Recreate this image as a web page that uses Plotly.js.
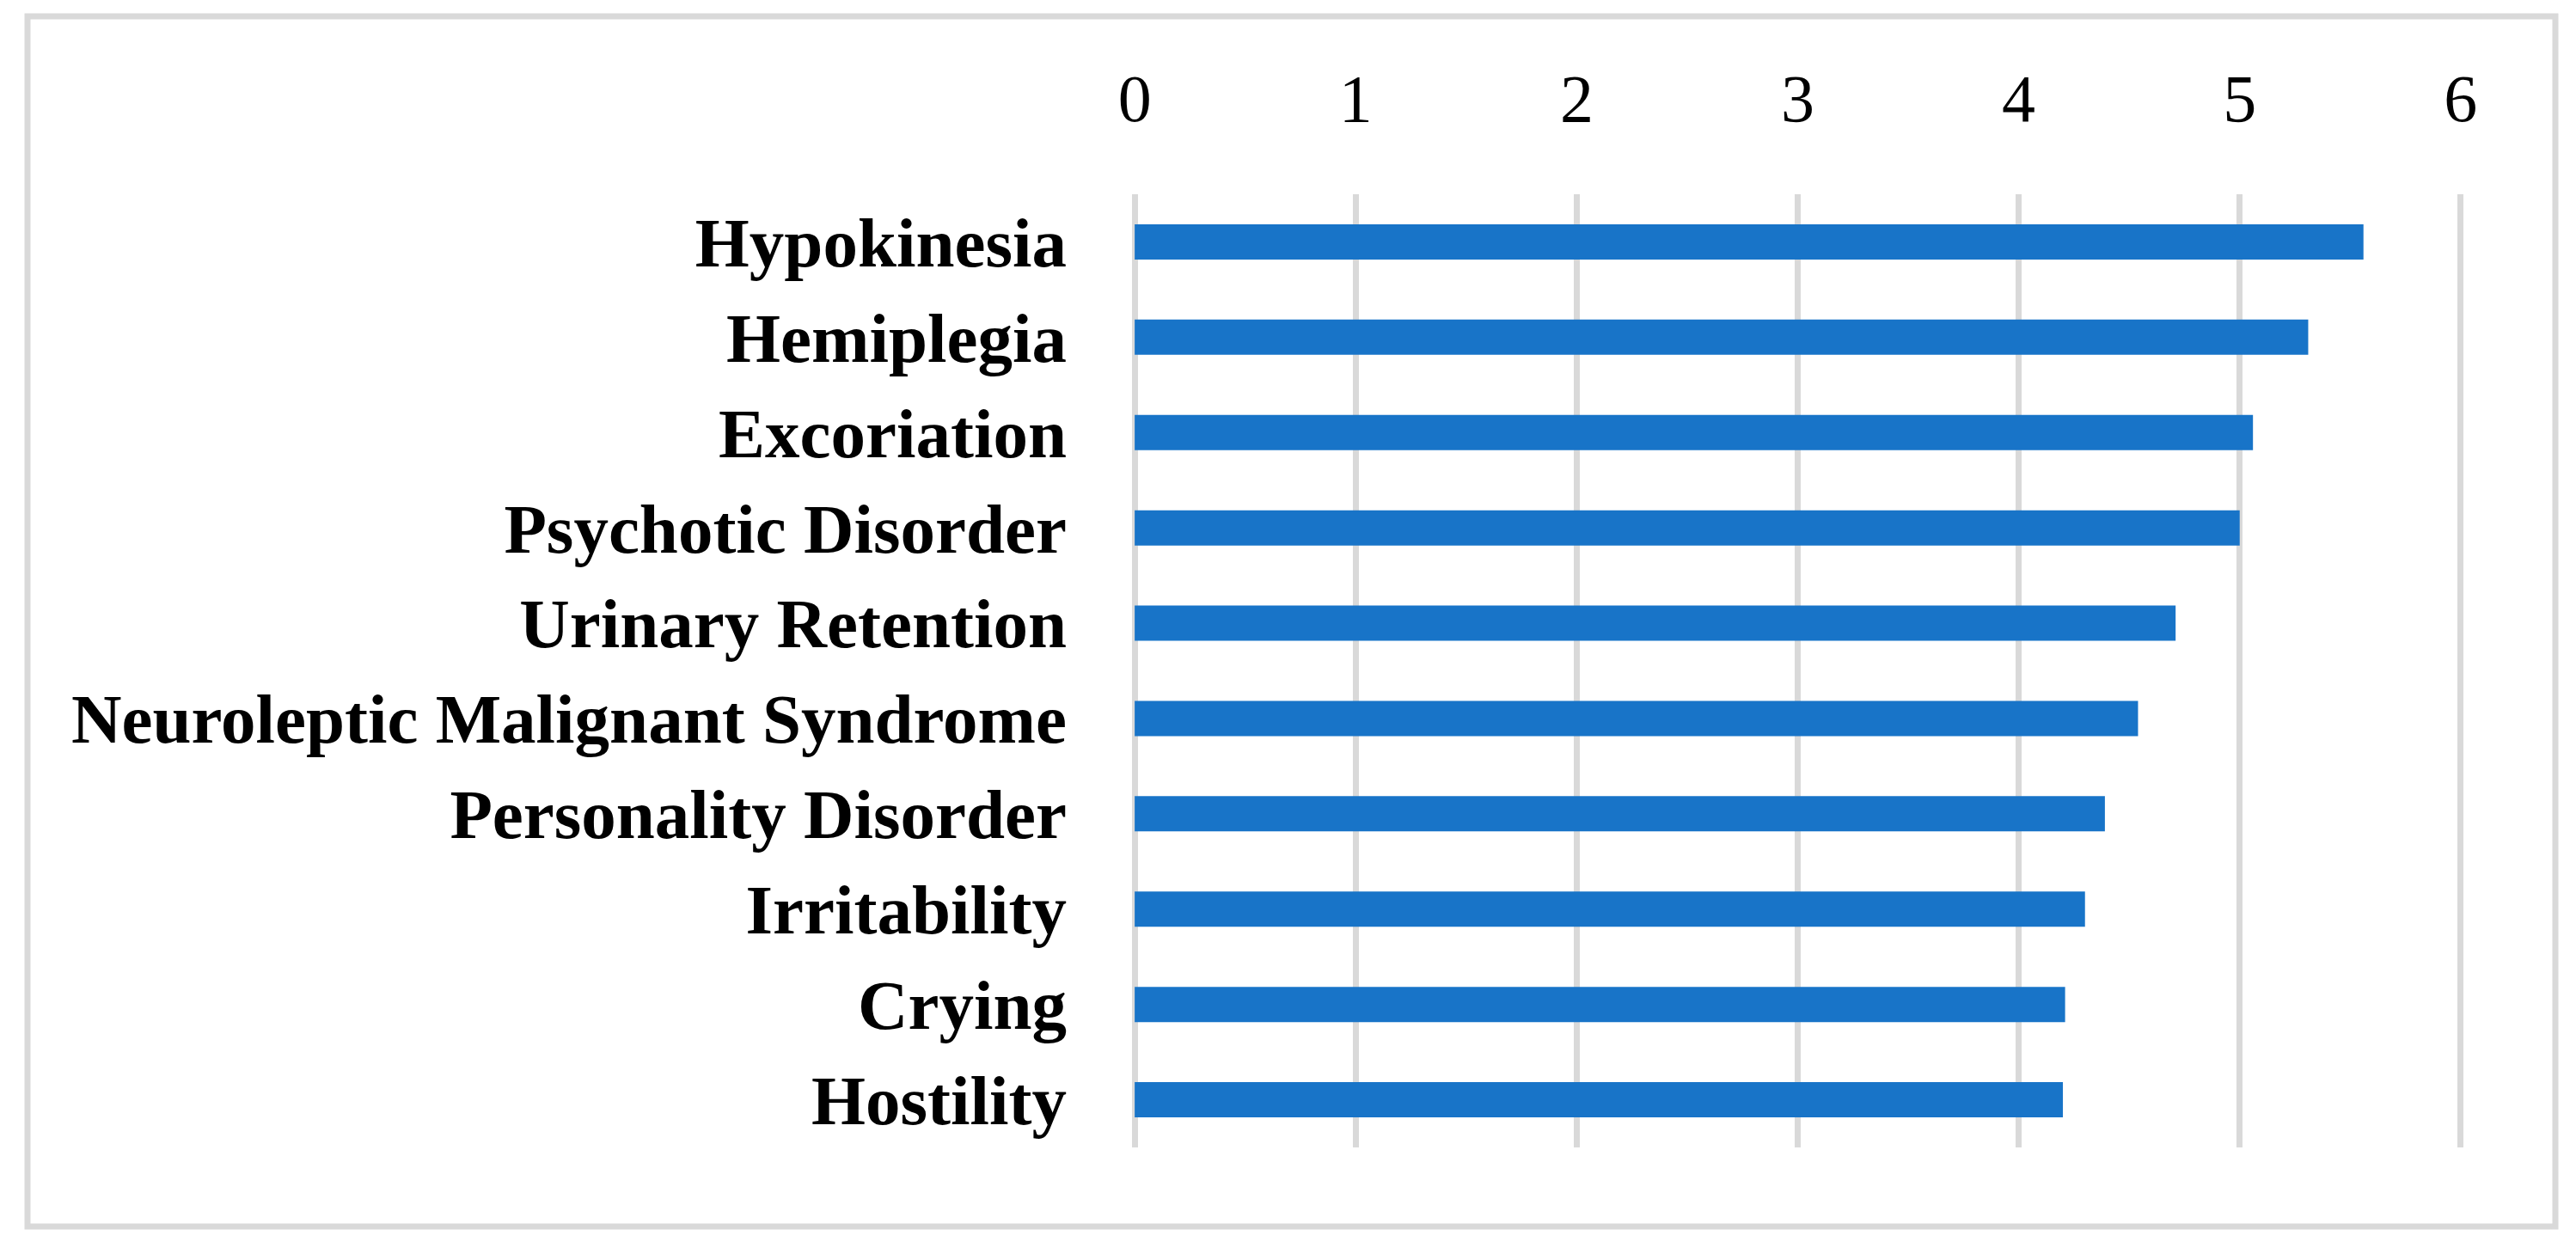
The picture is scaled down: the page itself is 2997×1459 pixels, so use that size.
<!DOCTYPE html>
<html>
<head>
<meta charset="utf-8">
<script src="https://cdn.plot.ly/plotly-3.0.1.min.js"></script>
<style>
  html, body { margin: 0; padding: 0; background: #ffffff; }
  #chart { width: 2997px; height: 1459px; }
</style>
</head>
<body>
<div id="chart"></div>
<script>
// Data (top to bottom as shown)
const categories = [
  "Hypokinesia",
  "Hemiplegia",
  "Excoriation",
  "Psychotic Disorder",
  "Urinary Retention",
  "Neuroleptic Malignant Syndrome",
  "Personality Disorder",
  "Irritability",
  "Crying",
  "Hostility"
];
const values = [5.56, 5.31, 5.06, 5.00, 4.71, 4.54, 4.39, 4.30, 4.21, 4.20];
const xTickValues = [0, 1, 2, 3, 4, 5, 6];
const xTickLabels = ["0", "1", "2", "3", "4", "5", "6"];

const serif = "Liberation Serif, Times New Roman, serif";

const trace = {
  type: "bar",
  orientation: "h",
  x: values,
  y: categories,
  marker: { color: "#1874C8", line: { width: 0 } },
  hoverinfo: "x+y"
};

const L = 1315, R = 129, T = 226, B = 124;
const plotW = 2997 - L - R, plotH = 1459 - T - B;
const px = v => (v - L) / plotW;
const py = v => (1459 - B - v) / plotH;

const layout = {
  width: 2997,
  height: 1459,
  margin: { l: L, r: R, t: T, b: B, pad: 0 },
  paper_bgcolor: "#ffffff",
  plot_bgcolor: "#ffffff",
  showlegend: false,
  bargap: 0.63,
  xaxis: {
    side: "top",
    range: [-0.02, 6.02],
    tickvals: xTickValues,
    ticktext: xTickLabels,
    showgrid: true,
    gridcolor: "#d9d9d9",
    gridwidth: 7,
    zeroline: false,
    showline: false,
    ticks: "",
    ticklabelstandoff: 68,
    tickfont: { family: serif, size: 78, color: "#000000" }
  },
  yaxis: {
    type: "category",
    autorange: "reversed",
    showgrid: false,
    zeroline: false,
    showline: false,
    ticks: "",
    ticklabelstandoff: 73,
    tickfont: { family: serif, size: 81, color: "#000000", weight: "bold" }
  },
  shapes: [
    {
      type: "rect",
      xref: "paper", yref: "paper",
      x0: px(32), x1: px(2973),
      y0: py(1427), y1: py(19),
      line: { color: "#d9d9d9", width: 7 },
      fillcolor: "rgba(0,0,0,0)",
      layer: "below"
    }
  ]
};

Plotly.newPlot("chart", [trace], layout, { displayModeBar: false, staticPlot: true });
</script>
</body>
</html>
